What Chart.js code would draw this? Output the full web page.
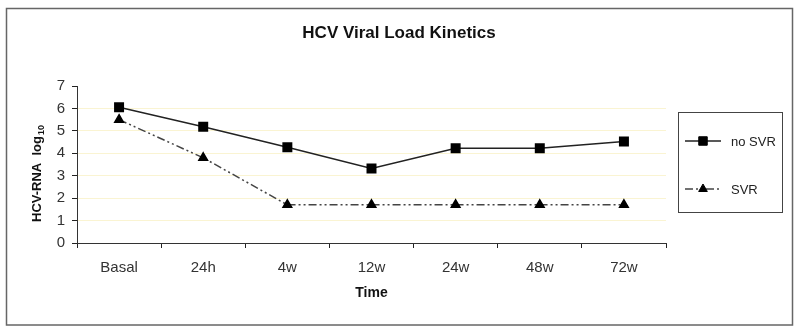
<!DOCTYPE html>
<html>
<head>
<meta charset="utf-8">
<script src="https://cdn.jsdelivr.net/npm/chart.js@4/dist/chart.umd.min.js"></script>
<style>
  html, body { margin: 0; padding: 0; background: #fff; }
  #wrap { width: 800px; height: 331px; position: relative; }
</style>
</head>
<body>
<div id="wrap"><canvas id="kinetics"></canvas></div>
<script>
// values (log10 HCV-RNA)
const timePoints = ['Basal', '24h', '4w', '12w', '24w', '48w', '72w'];
const noSvrValues = [6.05, 5.18, 4.27, 3.32, 4.22, 4.22, 4.53];
const svrValues = [5.5, 3.8, 1.7, 1.7, 1.7, 1.7, 1.7];
const seriesNames = ['no SVR', 'SVR'];
const yMin = 0, yMax = 7;

const FONT = "'Liberation Sans', Arial, sans-serif";
const gridYellow = '#faf4d2';

// frame, title, rotated y title with subscript, boxed legend
const decorations = {
  id: 'decorations',
  afterDraw(chart) {
    const ctx = chart.ctx;
    ctx.save();

    // outer frame
    ctx.strokeStyle = '#666';
    ctx.lineWidth = 1.5;
    ctx.strokeRect(6.5, 8.5, 786, 316.5);

    // title
    ctx.fillStyle = '#111';
    ctx.font = 'bold 17px ' + FONT;
    ctx.textAlign = 'center';
    ctx.textBaseline = 'middle';
    ctx.fillText('HCV Viral Load Kinetics', 399, 33);

    // y axis title: HCV-RNA  log10
    ctx.save();
    ctx.translate(41, 222);
    ctx.rotate(-Math.PI / 2);
    ctx.textAlign = 'left';
    ctx.textBaseline = 'alphabetic';
    ctx.font = 'bold 13px ' + FONT;
    const main = 'HCV-RNA  log';
    ctx.fillText(main, 0, 0);
    const w = ctx.measureText(main).width;
    ctx.font = 'bold 9px ' + FONT;
    ctx.fillText('10', w + 1, 3);
    ctx.restore();

    // legend box
    ctx.strokeStyle = '#444';
    ctx.lineWidth = 1;
    ctx.strokeRect(678.5, 112.5, 104, 100);
    const rows = [141, 189];
    chart.data.datasets.forEach((ds, i) => {
      const y = rows[i];
      ctx.save();
      ctx.strokeStyle = ds.borderColor;
      ctx.lineWidth = ds.borderWidth;
      ctx.setLineDash(ds.borderDash || []);
      ctx.beginPath();
      ctx.moveTo(685, y);
      ctx.lineTo(721, y);
      ctx.stroke();
      ctx.restore();
      ctx.fillStyle = ds.pointBackgroundColor;
      ctx.strokeStyle = ds.pointBorderColor;
      ctx.lineWidth = 1;
      Chart.helpers.drawPoint(ctx, {
        pointStyle: ds.pointStyle,
        radius: ds.pointRadius,
        rotation: 0,
        borderWidth: 1
      }, 703, y);
      ctx.fillStyle = '#222';
      ctx.font = '13px ' + FONT;
      ctx.textAlign = 'left';
      ctx.textBaseline = 'middle';
      ctx.fillText(ds.label, 731, y + 1);
    });

    ctx.restore();
  }
};

const chart = new Chart(document.getElementById('kinetics'), {
  type: 'line',
  data: {
    labels: timePoints,
    datasets: [
      {
        label: seriesNames[0],
        data: noSvrValues,
        borderColor: '#222',
        borderWidth: 1.5,
        pointStyle: 'rect',
        pointRadius: 6,
        pointHoverRadius: 6,
        pointBackgroundColor: '#000',
        pointBorderColor: '#000',
        tension: 0
      },
      {
        label: seriesNames[1],
        data: svrValues,
        borderColor: '#444',
        borderWidth: 1.5,
        borderDash: [8, 3, 2, 3, 2, 3],
        pointStyle: 'triangle',
        pointRadius: 5,
        pointHoverRadius: 5,
        pointBackgroundColor: '#000',
        pointBorderColor: '#000',
        tension: 0
      }
    ]
  },
  options: {
    responsive: true,
    maintainAspectRatio: false,
    animation: false,
    layout: { padding: { left: 0, right: 134, top: 86, bottom: 0 } },
    plugins: {
      legend: { display: false },
      title: { display: false },
      tooltip: { enabled: false }
    },
    scales: {
      x: {
        offset: true,
        afterFit(scale) { scale.height = 88; },
        grid: {
          offset: true,
          drawOnChartArea: false,
          tickLength: 5,
          tickColor: '#222',
          tickWidth: 1
        },
        border: { display: true, color: '#333', width: 1 },
        ticks: {
          color: '#333',
          padding: 11,
          font: { family: FONT, size: 15 },
          maxRotation: 0
        },
        title: {
          display: true,
          text: 'Time',
          color: '#111',
          font: { family: FONT, size: 14, weight: 'bold' },
          padding: { top: 0, bottom: 29 }
        }
      },
      y: {
        min: yMin,
        max: yMax,
        afterFit(scale) { scale.width = 77; },
        grid: {
          color: ctx => (ctx.tick && ctx.tick.value >= 1 && ctx.tick.value <= 6) ? gridYellow : 'rgba(0,0,0,0)',
          tickColor: '#222',
          tickLength: 5,
          lineWidth: 1
        },
        border: { display: true, color: '#333', width: 1 },
        ticks: {
          stepSize: 1,
          color: '#333',
          padding: 7,
          font: { family: FONT, size: 15 }
        }
      }
    }
  },
  plugins: [decorations]
});
</script>
</body>
</html>
